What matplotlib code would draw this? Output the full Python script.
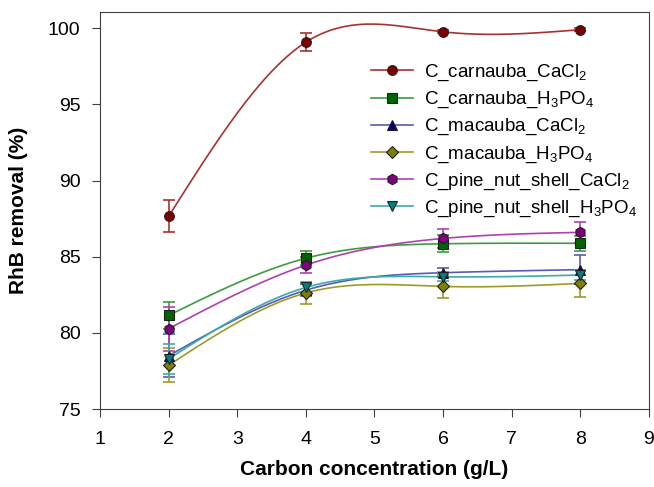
import numpy as np
import matplotlib.pyplot as plt

plt.rcParams['font.family'] = ['Liberation Sans', 'DejaVu Sans']
plt.rcParams['mathtext.fontset'] = 'custom'
plt.rcParams['mathtext.rm'] = 'Liberation Sans'

# Carbon concentration (g/L)
conc = [2, 4, 6, 8]

labels = ['C_carnauba_CaCl$_2$', 'C_carnauba_H$_3$PO$_4$', 'C_macauba_CaCl$_2$',
          'C_macauba_H$_3$PO$_4$', 'C_pine_nut_shell_CaCl$_2$', 'C_pine_nut_shell_H$_3$PO$_4$']

carnauba_cacl2 = [87.65, 99.08, 99.76, 99.9]
carnauba_cacl2_err = [1.05, 0.6, 0.1, 0.1]
carnauba_h3po4 = [81.15, 84.9, 85.85, 85.88]
carnauba_h3po4_err = [0.9, 0.45, 0.55, 0.5]
macauba_cacl2 = [78.5, 82.8, 83.95, 84.15]
macauba_cacl2_err = [1.4, 0.4, 0.3, 0.95]
macauba_h3po4 = [77.88, 82.62, 83.05, 83.25]
macauba_h3po4_err = [1.1, 0.7, 0.77, 0.87]
pine_cacl2 = [80.28, 84.45, 86.2, 86.6]
pine_cacl2_err = [1.44, 0.55, 0.6, 0.68]
pine_h3po4 = [78.3, 82.98, 83.68, 83.8]
pine_h3po4_err = [1.0, 0.3, 0.3, 0.3]

series = [carnauba_cacl2, carnauba_h3po4, macauba_cacl2, macauba_h3po4, pine_cacl2, pine_h3po4]
errors = [carnauba_cacl2_err, carnauba_h3po4_err, macauba_cacl2_err,
          macauba_h3po4_err, pine_cacl2_err, pine_h3po4_err]

marker_colors = ['#800000', '#006400', '#000080', '#808000', '#800080', '#008080']
line_colors = ['#a83232', '#3c9e3c', '#5a5ab4', '#9c9c28', '#b040b0', '#3cabab']
markers = ['o', 's', '^', 'D', 'h', 'v']
msizes = [7, 6.5, 7, 6, 7.5, 7]


def natural_spline(x, y, xs):
    # plain natural cubic spline, like the sigmaplot curve
    x = np.asarray(x, float)
    y = np.asarray(y, float)
    n = len(x)
    h = np.diff(x)
    A = np.zeros((n, n))
    b = np.zeros(n)
    A[0, 0] = 1
    A[-1, -1] = 1
    for i in range(1, n - 1):
        A[i, i - 1] = h[i - 1]
        A[i, i] = 2 * (h[i - 1] + h[i])
        A[i, i + 1] = h[i]
        b[i] = 3 * ((y[i + 1] - y[i]) / h[i] - (y[i] - y[i - 1]) / h[i - 1])
    c = np.linalg.solve(A, b)
    out = np.zeros_like(xs)
    for j, xv in enumerate(xs):
        i = min(np.searchsorted(x, xv, side='right') - 1, n - 2)
        i = max(i, 0)
        dx = xv - x[i]
        bi = (y[i + 1] - y[i]) / h[i] - h[i] * (2 * c[i] + c[i + 1]) / 3
        di = (c[i + 1] - c[i]) / (3 * h[i])
        out[j] = y[i] + bi * dx + c[i] * dx ** 2 + di * dx ** 3
    return out


fig = plt.figure(figsize=(6.54, 4.87), dpi=100)
ax = fig.add_axes([0.153, 0.160, 0.839, 0.815])

xs = np.linspace(conc[0], conc[-1], 300)
for k in range(len(series)):
    ys = natural_spline(conc, series[k], xs)
    ax.plot(xs, ys, color=line_colors[k], lw=1.2, zorder=2)
    ax.errorbar(conc, series[k], yerr=errors[k], fmt='none', ecolor=line_colors[k],
                elinewidth=1.2, capsize=4.5, capthick=1.2, zorder=3)
    ax.plot(conc, series[k], linestyle='none', marker=markers[k], ms=msizes[k],
            mfc=marker_colors[k], mec='#202020', mew=0.8, zorder=4)
    # legend proxy
    ax.plot([], [], color=line_colors[k], lw=1.2, marker=markers[k], ms=msizes[k],
            mfc=marker_colors[k], mec='#202020', mew=0.8, label=labels[k])

ax.set_xlim(1, 9)
ax.set_ylim(75, 101.05)
ax.set_xticks(range(1, 10))
ax.set_yticks([75, 80, 85, 90, 95, 100])
ax.tick_params(labelsize=14, length=5.5, direction='out', color='#404040')
ax.tick_params(axis='y', pad=8.5)
ax.tick_params(axis='x', pad=10)
for sp in ax.spines.values():
    sp.set_color('#404040')

ax.set_xlabel('Carbon concentration (g/L)', fontsize=15, fontweight='bold')
ax.set_ylabel('RhB removal (%)', fontsize=15, fontweight='bold')
ax.xaxis.set_label_coords(0.5, -0.128)
ax.yaxis.set_label_coords(-0.131, 0.5)

ax.legend(loc='upper left', bbox_to_anchor=(0.463, 0.915), frameon=False, fontsize=13.5,
          handlelength=2.25, labelspacing=0.36, handletextpad=0.6)

fig.savefig('out.png', dpi=100)
